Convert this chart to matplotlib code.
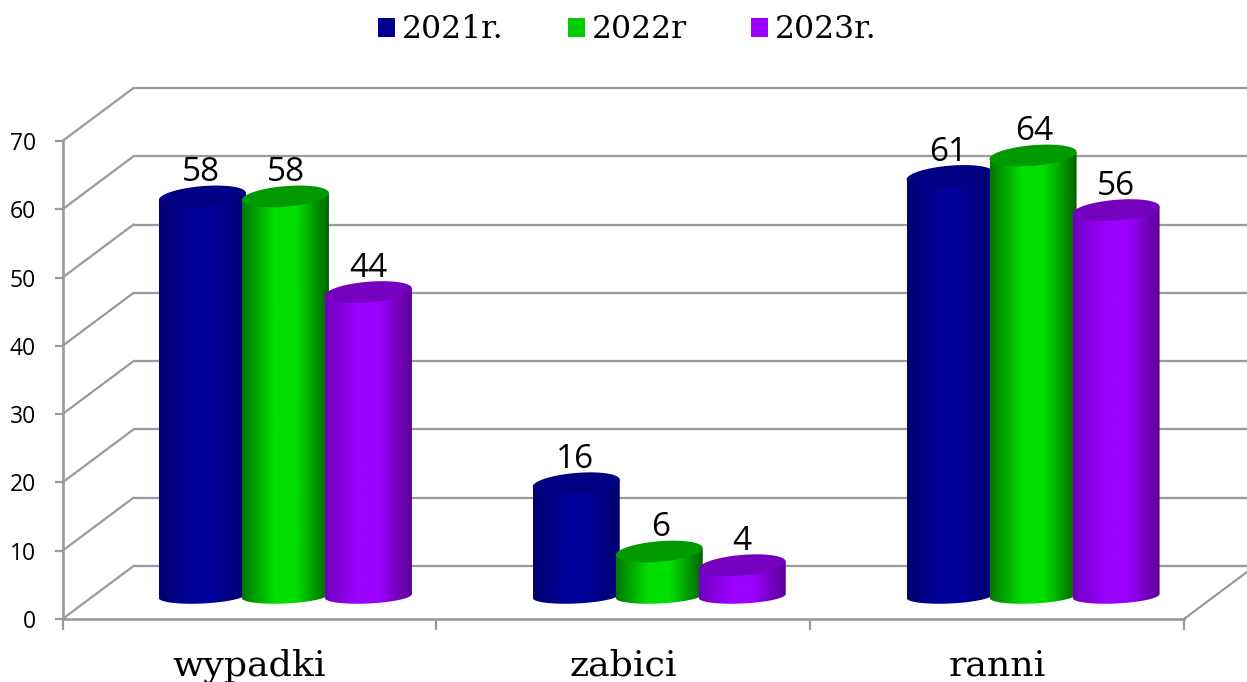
import numpy as np
import matplotlib
matplotlib.use("Agg")
import matplotlib.pyplot as plt
from matplotlib.colors import LinearSegmentedColormap
from matplotlib.patches import Patch, Polygon

categories = ["wypadki", "zabici", "ranni"]
series_names = ["2021r.", "2022r", "2023r."]
v2021 = [58, 16, 61]
v2022 = [58, 6, 64]
v2023 = [44, 4, 56]
y_ticks = [0, 10, 20, 30, 40, 50, 60, 70]

W, H, DPI = 1247, 682, 100
L, R, B, T = 62.5, 1184.0, 619.0, 141.0  # plot-plane pixels (from top)
GRID = "#9a9a9a"
SANS = "Open Sans"
SERIF = "DejaVu Serif"

styles = [
    dict(left="#000070", mid="#00009a", right="#000070", top="#000082", legend="#000090"),
    dict(left="#007800", mid="#00e000", right="#006400", top="#009a00", legend="#00cc00"),
    dict(left="#7000c0", mid="#9c00ff", right="#5a0094", top="#7500c0", legend="#9900ff"),
]

fig = plt.figure(figsize=(W / DPI, H / DPI), dpi=DPI, facecolor="white")
ax = fig.add_axes([L / W, (H - B) / H, (R - L) / W, (B - T) / H])
ax.set_xlim(-0.5, 2.5)
ax.set_ylim(0, 70)
ax.patch.set_visible(False)

px_x = 3.0 / (R - L)     # data units per pixel, x
px_y = 70.0 / (B - T)    # data units per pixel, y

# 3-D wall: depth offset
depth_x, depth_y = 71 * px_x, 53 * px_y
for v in y_ticks:
    ax.plot([-0.5 + depth_x, 2.5 + depth_x], [v + depth_y] * 2, color=GRID, lw=1.6,
            clip_on=False, zorder=1, solid_capstyle="butt")
    ax.plot([-0.5, -0.5 + depth_x], [v, v + depth_y], color=GRID, lw=1.6,
            clip_on=False, zorder=1)
ax.plot([2.5, 2.5 + depth_x], [0, depth_y], color=GRID, lw=1.6, clip_on=False, zorder=1)

# Cylinders
step = 83 * px_x
a = 43.5 * px_x
cx0 = 36 * px_x
base_y = 23 * px_y
base_b, base_s = 7.5 * px_y, 2.0 * px_y
top_y = 26.5 * px_y
top_b, top_s = 10.3 * px_y, 3.5 * px_y
t = np.linspace(0, 2 * np.pi, 120)
tb = np.linspace(np.pi, 2 * np.pi, 60)
z = 3
label_dx = [-1.5, 1, 0]

for i, vals in enumerate([v2021, v2022, v2023]):
    st = styles[i]
    cmap = LinearSegmentedColormap.from_list(
        "c", [(0, st["left"]), (0.38, st["mid"]), (0.62, st["mid"]), (1, st["right"])], N=256)
    for c, v in enumerate(vals):
        cx = c + cx0 + (i - 1) * step
        top = top_y + v
        xs = cx + a * np.cos(tb)
        ys = base_y + base_b * np.sin(tb) + base_s * np.cos(tb)
        body = np.column_stack([
            np.r_[xs, cx + a, cx - a],
            np.r_[ys, top + top_s, top - top_s],
        ])
        poly = Polygon(body, closed=True, facecolor="none", edgecolor="none", zorder=z)
        ax.add_patch(poly)
        grad = np.linspace(0, 1, 128).reshape(1, -1)
        im = ax.imshow(grad, extent=(cx - a, cx + a, base_y - base_b - base_s, top + top_s),
                       aspect="auto", cmap=cmap, interpolation="bilinear", zorder=z, origin="lower")
        im.set_clip_path(poly)
        cap = np.column_stack([cx + a * np.cos(t), top + top_b * np.sin(t) + top_s * np.cos(t)])
        ax.add_patch(Polygon(cap, closed=True, facecolor=st["top"], edgecolor="none",
                             zorder=z + 0.5))
        ax.annotate(str(v), xy=(cx, top), xytext=(label_dx[i] * 0.72, 17),
                    textcoords="offset points", ha="center", va="center", fontsize=24,
                    family=SANS, color="black", zorder=20, annotation_clip=False)
        z += 1

ax.set_xlim(-0.5, 2.5)
ax.set_ylim(0, 70)

# Axes
for side in ("top", "right"):
    ax.spines[side].set_visible(False)
for side in ("left", "bottom"):
    ax.spines[side].set_color(GRID)
    ax.spines[side].set_linewidth(1.9)
ax.set_yticks(y_ticks)
ax.tick_params(axis="y", length=6, width=1.6, color=GRID, pad=13, labelsize=16.5, labelcolor="black")
for lab in ax.get_yticklabels():
    lab.set_family(SANS)
ax.set_xticks([-0.5, 0.5, 1.5, 2.5])
ax.set_xticklabels([])
ax.tick_params(axis="x", which="major", length=8, width=1.6, color=GRID)
ax.set_xticks([0, 1, 2], minor=True)
ax.set_xticklabels(categories, minor=True, fontsize=26.2, family=SERIF)
ax.tick_params(axis="x", which="minor", length=0, pad=21.5)

# Legend
handles = [Patch(facecolor=st["legend"], edgecolor="none") for st in styles]
fig.legend(handles, series_names, loc="center", bbox_to_anchor=(627.5 / W, 1 - 30 / H), ncol=3,
           frameon=False, prop={"family": SERIF, "size": 22.6}, handlelength=0.54, handleheight=0.54,
           handletextpad=0.22, columnspacing=2.04, borderpad=0, borderaxespad=0)

fig.savefig("out.png", dpi=DPI, facecolor="white")
